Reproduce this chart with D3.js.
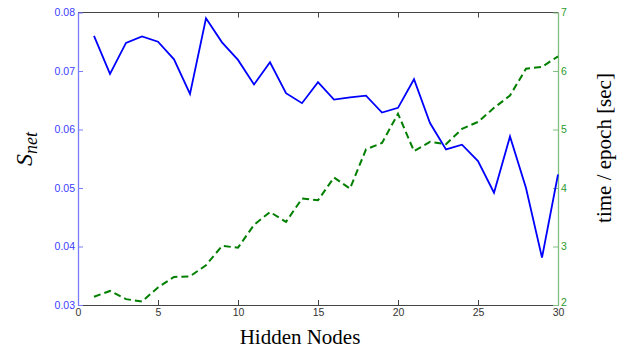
<!DOCTYPE html>
<html><head><meta charset="utf-8">
<script src="https://cdn.jsdelivr.net/npm/d3@7"></script>
<style>body{margin:0;background:#fff}svg{display:block}</style>
</head><body>
<script>
const hiddenNodes = [1,2,3,4,5,6,7,8,9,10,11,12,13,14,15,16,17,18,19,20,21,22,23,24,25,26,27,28,29,30];
const snet = [0.0760,0.0695,0.0748,0.0759,0.0750,0.0720,0.0661,0.0790,0.0749,0.0719,0.0677,0.0715,0.0662,0.0645,0.0681,0.0651,0.0655,0.0658,0.0629,0.0637,0.0686,0.0611,0.0566,0.0574,0.0546,0.0492,0.0588,0.0500,0.0381,0.0523];
const timeEpoch = [2.14,2.24,2.10,2.06,2.30,2.48,2.49,2.68,3.01,2.98,3.37,3.59,3.42,3.82,3.79,4.18,3.99,4.66,4.77,5.27,4.63,4.79,4.75,5.01,5.13,5.37,5.58,6.04,6.07,6.25];
const xTicks = [0,5,10,15,20,25,30];
const leftTicks = [0.03,0.04,0.05,0.06,0.07,0.08];
const rightTicks = [2,3,4,5,6,7];

const W=624,H=350;
const L=78,R=558,T=12.5,B=305;
const svg=d3.select("body").append("svg").attr("width",W).attr("height",H);
const x=d3.scaleLinear().domain([0,30]).range([L,R]);
const yL=d3.scaleLinear().domain([0.03,0.08]).range([B,T]);
const yR=d3.scaleLinear().domain([2,7]).range([B,T]);
const tickFont="'Liberation Sans', Arial, sans-serif";

svg.append("line").attr("x1",L).attr("x2",R).attr("y1",T).attr("y2",T).attr("stroke","#444").attr("stroke-width",1);
const gx=svg.append("g").attr("transform",`translate(0,${B})`)
  .call(d3.axisBottom(x).tickValues(xTicks).tickSizeInner(-5).tickSizeOuter(0).tickPadding(4).tickFormat(d3.format("d")));
gx.select(".domain").attr("stroke","#444");
gx.selectAll(".tick line").attr("stroke","#444");
gx.selectAll("text").attr("fill","#333").style("font-family",tickFont).style("font-size","10.5px");
svg.append("g").attr("transform",`translate(0,${T})`)
  .call(d3.axisTop(x).tickValues(xTicks).tickSizeInner(-5).tickSizeOuter(0).tickFormat(""))
  .call(g=>{g.select(".domain").remove();g.selectAll(".tick line").attr("stroke","#444");});

const gl=svg.append("g").attr("transform",`translate(${L},0)`)
  .call(d3.axisLeft(yL).tickValues(leftTicks).tickSizeInner(-5).tickSizeOuter(0).tickPadding(3).tickFormat(d3.format(".2f")));
gl.select(".domain").attr("stroke","#7a7aff").attr("stroke-width",1.3);
gl.selectAll(".tick line").attr("stroke","#7a7aff");
gl.selectAll("text").attr("fill","#3b3bff").style("font-family",tickFont).style("font-size","10.5px");

const gr=svg.append("g").attr("transform",`translate(${R},0)`)
  .call(d3.axisRight(yR).tickValues(rightTicks).tickSizeInner(-5).tickSizeOuter(0).tickPadding(3).tickFormat(d3.format("d")));
gr.select(".domain").attr("stroke","#7fbf7f").attr("stroke-width",1.3);
gr.selectAll(".tick line").attr("stroke","#7fbf7f");
gr.selectAll("text").attr("fill","#2e9a2e").style("font-family",tickFont).style("font-size","10.5px");
gr.selectAll(".tick").filter(d=>d===2).select("text").attr("dy","0.05em");

svg.append("path").datum(hiddenNodes.map((d,i)=>[d,timeEpoch[i]]))
  .attr("fill","none").attr("stroke","#007f00").attr("stroke-width",2).attr("stroke-dasharray","7,4")
  .attr("d",d3.line().x(d=>x(d[0])).y(d=>yR(d[1])));
svg.append("path").datum(hiddenNodes.map((d,i)=>[d,snet[i]]))
  .attr("fill","none").attr("stroke","#0000ff").attr("stroke-width",1.8)
  .attr("d",d3.line().x(d=>x(d[0])).y(d=>yL(d[1])));

const serif="'Liberation Serif','Times New Roman',serif";
svg.append("text").attr("x",300).attr("y",344).attr("text-anchor","middle")
  .style("font-family",serif).style("font-size","21px").attr("fill","#000").text("Hidden Nodes");
svg.append("text").attr("transform",`translate(${611},148) rotate(-90)`).attr("text-anchor","middle")
  .style("font-family",serif).style("font-size","21px").attr("fill","#000").text("time / epoch [sec]");
const sl=svg.append("text").attr("transform",`translate(${32},149) rotate(-90)`).attr("text-anchor","middle")
  .style("font-family",serif).style("font-style","italic").style("font-size","24px").attr("fill","#000");
sl.append("tspan").text("S");
sl.append("tspan").attr("dy",5).style("font-size","18px").text("net");
</script>
</body></html>
